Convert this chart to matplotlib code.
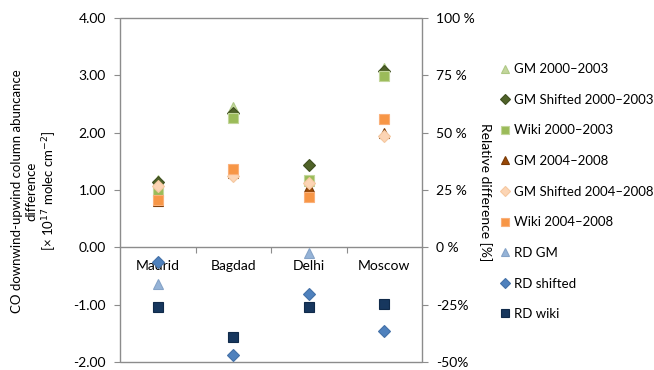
import numpy as np
import matplotlib
matplotlib.use("Agg")
import matplotlib.pyplot as plt
from matplotlib.patches import Rectangle
from matplotlib.ticker import FixedLocator, FixedFormatter

plt.rcParams['font.family'] = ['Lato', 'DejaVu Sans']

cities = ["Madrid", "Bagdad", "Delhi", "Moscow"]
gm_0003 = [1.18, 2.45, 1.15, 3.13]
gmshift_0003 = [1.14, 2.35, 1.43, 3.08]
wiki_0003 = [0.97, 2.26, 1.18, 2.99]
gm_0408 = [0.80, 1.30, 1.06, 1.99]
gmshift_0408 = [1.07, 1.25, 1.12, 1.94]
wiki_0408 = [0.83, 1.37, 0.88, 2.24]
rd_gm = [-15.8, np.nan, -2.5, np.nan]
rd_shift = [-6.4, -46.8, -20.5, -36.6]
rd_wiki = [-26.0, -39.2, -26.2, -24.7]

left_ticks = [-2, -1, 0, 1, 2, 3, 4]
left_labels = ["-2.00", "-1.00", "0.00", "1.00", "2.00", "3.00", "4.00"]
right_ticks = [-50, -25, 0, 25, 50, 75, 100]
right_labels = ["-50%", "-25%", "0 %", "25 %", "50 %", "75 %", "100 %"]

gray = "#8c8c8c"
fig = plt.figure(figsize=(6.54, 3.70), dpi=100)
ax = fig.add_axes([120/654, 8/370, 302/654, 344/370])
ax2 = ax.twinx()

x = np.arange(len(cities))
series = [
    (gm_0003, "^", "#C3D69B", "#AFC886", "GM 2000\u20132003", 7.5),
    (gmshift_0003, "D", "#4F6228", "#3F4F20", "GM Shifted 2000\u20132003", 6.5),
    (wiki_0003, "s", "#9BBB59", "#C3D69B", "Wiki 2000\u20132003", 6.5),
    (gm_0408, "^", "#984807", "#7a3a06", "GM 2004\u20132008", 7.5),
    (gmshift_0408, "D", "#FCD5B5", "#F5C8A0", "GM Shifted 2004\u20132008", 6.5),
    (wiki_0408, "s", "#F79646", "#FAB07A", "Wiki 2004\u20132008", 6.5),
]
handles = []
for vals, m, fc, ec, lab, ms in series:
    h, = ax.plot(x, vals, linestyle="none", marker=m, markerfacecolor=fc,
                 markeredgecolor=ec, markeredgewidth=0.8, markersize=ms, label=lab, zorder=3)
    handles.append(h)
rseries = [
    (rd_gm, "^", "#95B3D7", "#85A3C7", "RD GM", 7.5),
    (rd_shift, "D", "#4F81BD", "#4471A8", "RD shifted", 6.0),
    (rd_wiki, "s", "#17375E", "#102a4a", "RD wiki", 6.5),
]
for vals, m, fc, ec, lab, ms in rseries:
    h, = ax2.plot(x, vals, linestyle="none", marker=m, markerfacecolor=fc,
                  markeredgecolor=ec, markeredgewidth=0.8, markersize=ms, label=lab, zorder=3)
    handles.append(h)

ax.set_xlim(-0.5, len(cities) - 0.5)
ax.set_ylim(-2, 4)
ax2.set_ylim(-50, 100)

for a in (ax, ax2):
    for s in ("top", "left", "right", "bottom"):
        a.spines[s].set_visible(False)

# category axis at zero
ax.spines["bottom"].set_visible(True)
ax.spines["bottom"].set_position(("data", 0))
ax.spines["bottom"].set_color(gray)
ax.spines["bottom"].set_linewidth(1.0)
ax.xaxis.set_major_locator(FixedLocator(x[:-1] + 0.5))
ax.xaxis.set_major_formatter(FixedFormatter([""] * (len(cities) - 1)))
ax.xaxis.set_minor_locator(FixedLocator(x))
ax.xaxis.set_minor_formatter(FixedFormatter(cities))
ax.tick_params(axis="x", which="major", direction="out", length=4, color=gray)
ax.tick_params(axis="x", which="minor", length=0, pad=9, labelsize=10, labelcolor="black")

ax.set_yticks(left_ticks)
ax.set_yticklabels(left_labels)
ax.tick_params(axis="y", direction="out", length=4, color=gray, labelsize=10, pad=6)
ax2.set_yticks(right_ticks)
ax2.set_yticklabels(right_labels)
ax2.tick_params(axis="y", direction="out", length=4, color=gray, labelsize=10, pad=6)

# plot area frame
ax.add_patch(Rectangle((0, 0), 1, 1, transform=ax.transAxes, fill=False,
                       edgecolor=gray, linewidth=1.0, clip_on=False, zorder=1))

fig.text(35/654, 1 - 191/370, "CO downwind-upwind column abuncance\ndifference\n[\u00d7 10$^{17}$ molec cm$^{-2}$]",
         rotation=90, ha="center", va="center", fontsize=9.5, linespacing=1.22)
fig.text(485/654, 1 - 192/370, "Relative difference [%]", rotation=270,
         ha="center", va="center", fontsize=10)

fig.legend(handles=handles, loc="upper left", bbox_to_anchor=(496/654, 1 - 58/370),
           frameon=False, fontsize=9.5, handlelength=0.6, handletextpad=0.35,
           labelspacing=1.41, borderaxespad=0, markerscale=0.85)

fig.savefig("out.png", dpi=100)
